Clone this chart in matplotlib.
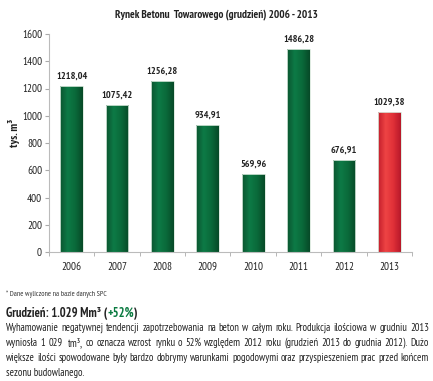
import numpy as np
import matplotlib
matplotlib.use('Agg')
import matplotlib.pyplot as plt
from matplotlib import font_manager as fm
from matplotlib.colors import LinearSegmentedColormap

installed = {f.name for f in fm.fontManager.ttflist}
candidates = ['PT Sans Narrow', 'Fira Sans Condensed', 'Asap Condensed', 'Archivo Narrow',
              'Liberation Sans Narrow', 'Liberation Sans']
family = [c for c in candidates if c in installed][:1] + ['DejaVu Sans']
plt.rcParams['font.family'] = family

years = ['2006', '2007', '2008', '2009', '2010', '2011', '2012', '2013']
values = [1218.04, 1075.42, 1256.28, 934.91, 569.96, 1486.28, 676.91, 1029.38]
highlight = [False] * 7 + [True]

title = 'Rynek Betonu  Towarowego (grudzień) 2006 - 2013'
ylabel = 'tys. m³'
footnote = '* Dane wyliczone na bazie danych SPC'
heading = ['Grudzień: 1.029 Mm³ (', '+52%', ')']
para = [
    'Wyhamowanie negatywnej tendencji zapotrzebowania na beton w całym roku. Produkcja ilościowa w grudniu 2013',
    'wyniosła 1 029  tm³, co oznacza wzrost rynku o 52% względem 2012 roku (grudzień 2013 do grudnia 2012). Dużo',
    'większe ilości spowodowane były bardzo dobrymy warunkami pogodowymi oraz przyspieszeniem prac przed końcem',
    'sezonu budowlanego.',
]

W, H = 433, 381
fig = plt.figure(figsize=(W / 100, H / 100), dpi=100)
ax = fig.add_axes([49 / W, 1 - 252 / H, (412 - 49) / W, (252 - 34) / H])

green = LinearSegmentedColormap.from_list('g', ['#0b5530', '#0d7a46', '#0a6a3a', '#074a28'])
red = LinearSegmentedColormap.from_list('r', ['#c41e2c', '#ee4444', '#e03038', '#b8182a'])
grad = np.linspace(0, 1, 64).reshape(1, -1)

x = np.arange(len(years))
bars = ax.bar(x, values, width=0.5, color='none', edgecolor='#d8e8dc', linewidth=0.6, zorder=3)
for b, hl, v in zip(bars, highlight, values):
    x0, w = b.get_x(), b.get_width()
    im = ax.imshow(grad, cmap=red if hl else green, aspect='auto',
                   extent=(x0, x0 + w, 0, v), zorder=2)
    im.set_clip_path(b)
    ax.text(x0 + w / 2, v + 40, f'{v:.2f}'.replace('.', ','), ha='center', va='bottom',
            fontsize=7.3, fontweight='bold', color='#222222')

ax.set_xlim(-0.5, len(years) - 0.5)
ax.set_ylim(0, 1600)
ax.set_yticks(range(0, 1601, 200))
ax.set_xticks(x)
ax.set_xticklabels(years)
ax.set_xticks(np.arange(-0.5, len(years), 1), minor=True)
ax.tick_params(axis='x', which='major', length=0, pad=7, labelsize=8, colors='#222222')
ax.tick_params(axis='x', which='minor', length=3, color='#aaaaaa')
ax.tick_params(axis='y', length=3, color='#aaaaaa', labelsize=8, labelcolor='#222222', pad=2)
for s in ['top', 'right']:
    ax.spines[s].set_visible(False)
for s in ['left', 'bottom']:
    ax.spines[s].set_color('#bbbbbb')
    ax.spines[s].set_linewidth(0.8)

fig.text(0.5, 1 - 15 / H, title, ha='center', va='center', fontsize=8, fontweight='bold', color='#222222')
fig.text(14 / W, 1 - 133 / H, ylabel, ha='center', va='center', rotation=90,
         fontsize=8.5, fontweight='bold', color='#222222')
fig.text(6 / W, 1 - 294 / H, footnote, ha='left', va='center', fontsize=5.5, style='italic', color='#333333')

renderer = fig.canvas.get_renderer()

# heading with green percentage
xp = 6
for part, col in zip(heading, ['#222222', '#0a7a40', '#222222']):
    t = fig.text(xp / W, 1 - 313 / H, part, ha='left', va='center', fontsize=9,
                 fontweight='bold', color=col)
    xp += t.get_window_extent(renderer).width

# justified paragraph: word widths scale with font size, so size it from a probe at 10 pt
left, right = 6, 429
fs0 = 10.0
probe = fig.text(0, 0, '', fontsize=fs0)
natural = []
for line in para:
    ws = []
    for wd in line.split(' '):
        probe.set_text(wd)
        ws.append(probe.get_window_extent(renderer).width if wd else 0)
    natural.append(sum(ws) + (len(ws) - 1) * 0.2 * fs0 * 100 / 72)
probe.remove()
fs = min(10.0, fs0 * (right - left) / max(natural))

for i, line in enumerate(para):
    y = 1 - (328 + 15 * i) / H
    if i == len(para) - 1:
        fig.text(left / W, y, line, ha='left', va='center', fontsize=fs, color='#222222')
        continue
    words = line.split(' ')
    texts, widths = [], []
    for wd in words:
        t = fig.text(0, y, wd, ha='left', va='center', fontsize=fs, color='#222222')
        texts.append(t)
        widths.append(t.get_window_extent(renderer).width if wd else 0)
    gap = (right - left - sum(widths)) / (len(words) - 1)
    xp = left
    for t, wdt in zip(texts, widths):
        t.set_x(xp / W)
        xp += wdt + gap

fig.savefig('out.png', dpi=100)
